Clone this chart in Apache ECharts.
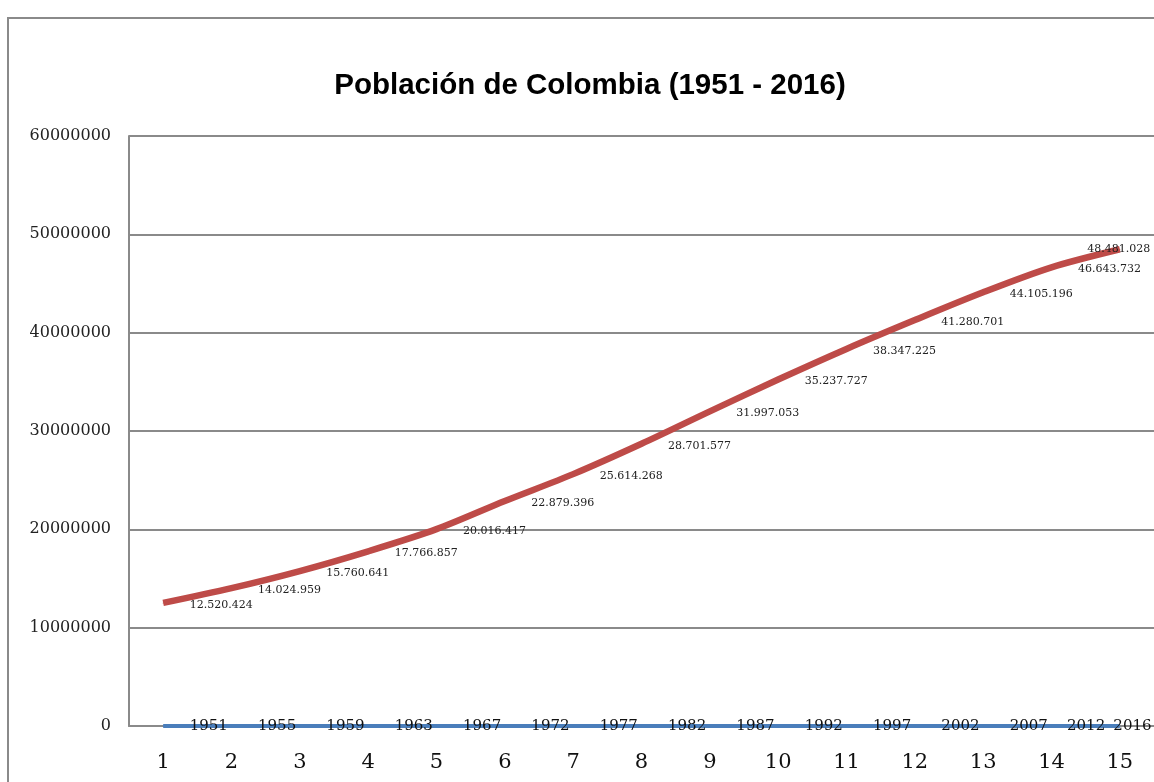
<!DOCTYPE html>
<html>
<head>
<meta charset="utf-8">
<title>Población de Colombia (1951 - 2016)</title>
<script src="https://cdn.jsdelivr.net/npm/echarts@6/dist/echarts.min.js"></script>
<style>
  html, body { margin: 0; padding: 0; background: #fff; }
  #chart { width: 1154px; height: 782px; }
</style>
</head>
<body>
<div id="chart"></div>
<script>
// datos
const categorias = ['1', '2', '3', '4', '5', '6', '7', '8', '9', '10', '11', '12', '13', '14', '15'];
const anios = [1951, 1955, 1959, 1963, 1967, 1972, 1977, 1982, 1987, 1992, 1997, 2002, 2007, 2012, 2016];
const poblacion = [12520424, 14024959, 15760641, 17766857, 20016417, 22879396, 25614268, 28701577,
  31997053, 35237727, 38347225, 41280701, 44105196, 46643732, 48481028];
const marcasEjeY = [0, 10000000, 20000000, 30000000, 40000000, 50000000, 60000000];

const conPuntos = (n) => String(n).replace(/\B(?=(\d{3})+(?!\d))/g, '.');

// las ultimas etiquetas se corren a la izquierda para que quepan
const ajusteAnios = { 13: [-11, 0], 14: [-33, 0] };
const ajustePobl = { 14: [-59, 0] };

const serieAnios = anios.map((v, i) => ajusteAnios[i]
  ? { value: v, label: { offset: ajusteAnios[i] } } : v);
const seriePobl = poblacion.map((v, i) => ajustePobl[i]
  ? { value: v, label: { offset: ajustePobl[i] } } : v);

const myChart = echarts.init(document.getElementById('chart'));
const gris = '#8a8a8a';

const option = {
  animation: false,
  title: {
    text: 'Población de Colombia (1951 - 2016)',
    left: 585,
    top: 66,
    textAlign: 'center',
    textStyle: { fontFamily: 'Liberation Sans', fontWeight: 'bold', fontSize: 29.5, color: '#000' }
  },
  graphic: [{
    type: 'rect',
    shape: { x: 8, y: 18, width: 1300, height: 900 },
    style: { fill: null, stroke: gris, lineWidth: 2 },
    silent: true
  }],
  grid: { left: 129, right: 0, top: 136, bottom: 56 },
  xAxis: {
    type: 'category',
    data: categorias,
    boundaryGap: true,
    axisLine: { lineStyle: { color: gris, width: 2 } },
    axisTick: { show: false },
    axisLabel: { margin: 26, fontFamily: 'DejaVu Serif', fontSize: 21, color: '#111' }
  },
  yAxis: {
    type: 'value',
    min: marcasEjeY[0],
    max: marcasEjeY[marcasEjeY.length - 1],
    interval: marcasEjeY[1] - marcasEjeY[0],
    axisLine: { show: true, lineStyle: { color: gris, width: 2 } },
    axisTick: { show: false },
    splitLine: { lineStyle: { color: gris, width: 2 } },
    axisLabel: {
      margin: 18,
      fontFamily: 'DejaVu Serif',
      fontSize: 16,
      color: '#222',
      formatter: (v) => String(v)
    }
  },
  series: [
    {
      name: 'Año',
      type: 'line',
      data: serieAnios,
      symbol: 'circle',
      symbolSize: 1,
      lineStyle: { color: '#4a7ebb', width: 4 },
      itemStyle: { color: '#4a7ebb' },
      label: {
        show: true,
        position: 'right',
        distance: 26,
        fontFamily: 'DejaVu Serif',
        fontSize: 15,
        color: '#111'
      },
      z: 3
    },
    {
      name: 'Población',
      type: 'line',
      data: seriePobl,
      smooth: 0.3,
      symbol: 'circle',
      symbolSize: 1,
      lineStyle: { color: '#be4b48', width: 6.5 },
      itemStyle: { color: '#be4b48' },
      label: {
        show: true,
        position: 'right',
        distance: 26,
        offset: [0, 2],
        fontFamily: 'DejaVu Serif',
        fontSize: 11,
        color: '#222',
        formatter: (p) => conPuntos(p.value)
      },
      z: 2
    }
  ]
};

option && myChart.setOption(option);
window.onresize = () => {
  myChart.resize();
};
</script>
</body>
</html>
